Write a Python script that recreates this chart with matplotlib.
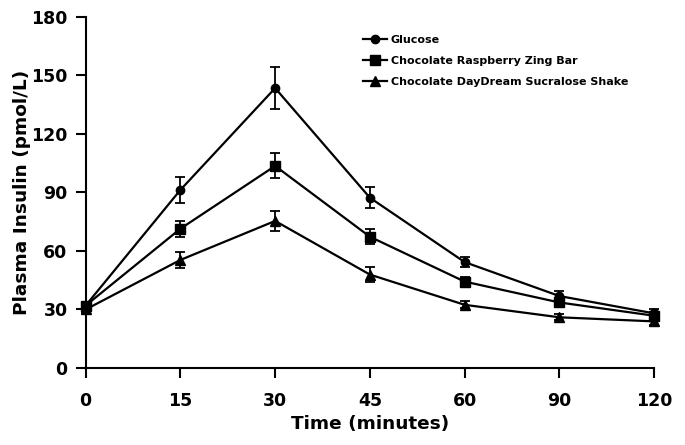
import matplotlib
matplotlib.use("Agg")
import matplotlib.pyplot as plt
import numpy as np

# time points (minutes), plotted as equally spaced categories
times = ["0", "15", "30", "45", "60", "90", "120"]

glucose = [32, 91.3, 143.5, 87.3, 54.3, 36.9, 28.0]
glucose_err = [2.0, 6.7, 10.8, 5.4, 2.6, 2.5, 2.0]

zing_bar = [32, 71.4, 103.6, 67.3, 44.3, 33.6, 26.8]
zing_bar_err = [2.0, 4.0, 6.4, 3.8, 2.5, 2.5, 2.0]

shake = [30, 55.4, 75.4, 47.9, 32.4, 26.0, 23.9]
shake_err = [2.0, 4.3, 5.3, 4.0, 1.8, 1.5, 2.0]

labels = ["Glucose", "Chocolate Raspberry Zing Bar",
          "Chocolate DayDream Sucralose Shake"]

plt.rcParams["font.family"] = ["DejaVu Sans"]
plt.rcParams["font.weight"] = "bold"

fig = plt.figure(figsize=(6.85, 4.45), dpi=100)
ax = fig.add_axes([0.125, 0.173, 0.830, 0.789])

x = np.arange(len(times))
series = [(glucose, glucose_err, "o", 6),
          (zing_bar, zing_bar_err, "s", 6.5),
          (shake, shake_err, "^", 6.5)]
handles = []
for (vals, err, mk, ms), lab in zip(series, labels):
    eb = ax.errorbar(x, vals, yerr=err, color="black", marker=mk, markersize=ms,
                     linewidth=1.6, elinewidth=1.3, capsize=3.5, capthick=1.3,
                     label=lab, clip_on=False)
    # legend shows only line + marker, no error bar
    handles.append(eb[0])

ax.set_xlim(0, len(times) - 1)
ax.set_ylim(0, 180)
ax.set_xticks(x)
ax.set_xticklabels(times)
ax.set_yticks(np.arange(0, 181, 30))

for side in ["top", "right"]:
    ax.spines[side].set_visible(False)
for side in ["left", "bottom"]:
    ax.spines[side].set_linewidth(1.5)
ax.tick_params(direction="out", length=7, width=1.5, labelsize=12.5)
ax.tick_params(axis="x", pad=10)
ax.tick_params(axis="y", pad=6)
for lbl in ax.get_xticklabels() + ax.get_yticklabels():
    lbl.set_fontweight("bold")

ax.set_xlabel("Time (minutes)", fontsize=13.3, fontweight="bold", labelpad=4)
ax.set_ylabel("Plasma Insulin (pmol/L)", fontsize=13.3, fontweight="bold", labelpad=0)

leg = ax.legend(handles, labels, loc="upper left", bbox_to_anchor=(0.48, 0.962),
                frameon=False, fontsize=8, handlelength=2.2, handletextpad=0.3,
                labelspacing=1.0, borderaxespad=0)
for t in leg.get_texts():
    t.set_fontweight("bold")

fig.savefig("out.png", dpi=100)
